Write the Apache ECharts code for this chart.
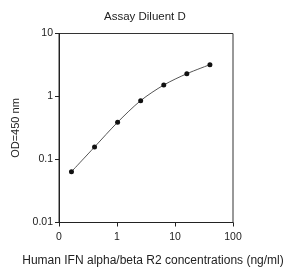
<!DOCTYPE html>
<html>
<head>
<meta charset="utf-8">
<script src="https://cdn.jsdelivr.net/npm/echarts@6/dist/echarts.min.js"></script>
<style>
  html, body { margin: 0; padding: 0; background: #fff; }
  #chart { width: 289px; height: 272px; }
</style>
</head>
<body>
<div id="chart"></div>
<script>
const concentrations = [0.164, 0.41, 1.024, 2.56, 6.4, 16, 40];
const odValues = [0.064, 0.158, 0.39, 0.86, 1.52, 2.3, 3.2];
const xTickLabels = { 0.1: '0', 1: '1', 10: '10', 100: '100' };

const chartArea = document.getElementById('chart');
const chart = echarts.init(chartArea);

const axis_text_style = {
  color: '#222',
  fontFamily: 'Liberation Sans',
  fontSize: 10.5
};

const points = concentrations.map((c, i) => [c, odValues[i]]);

const options = {
  animation: false,
  title: {
    text: 'Assay Diluent D',
    left: 99,
    top: 6,
    textStyle: { color: '#222', fontFamily: 'Liberation Sans', fontSize: 11.5, fontWeight: 'normal' }
  },
  grid: {
    left: 59, right: 56, top: 33.5, bottom: 49.5,
    show: true, borderColor: '#333', borderWidth: 1
  },
  xAxis: {
    type: 'log',
    logBase: 10,
    min: 0.1,
    max: 100,
    name: 'Human IFN alpha/beta R2 concentrations (ng/ml)',
    nameLocation: 'middle',
    nameGap: 32,
    nameTextStyle: { color: '#222', fontFamily: 'Liberation Sans', fontSize: 12, padding: [0, 0, 0, 14] },
    axisLine: { lineStyle: { color: '#222' } },
    axisTick: { length: 4, lineStyle: { color: '#222' } },
    minorTick: { show: false },
    splitLine: { show: false },
    axisLabel: Object.assign({
      margin: 9,
      formatter: function (v) {
        const key = Math.round(Math.log10(v));
        return xTickLabels[Math.pow(10, key)] ?? String(v);
      }
    }, axis_text_style)
  },
  yAxis: {
    type: 'log',
    logBase: 10,
    min: 0.01,
    max: 10,
    name: 'OD=450 nm',
    nameLocation: 'middle',
    nameGap: 38,
    nameTextStyle: { color: '#222', fontFamily: 'Liberation Sans', fontSize: 11 },
    axisLine: { lineStyle: { color: '#222' } },
    axisTick: { length: 4, lineStyle: { color: '#222' } },
    splitLine: { show: false },
    axisLabel: Object.assign({
      margin: 6,
      formatter: function (v) {
        return String(Number(v.toPrecision(1)));
      }
    }, axis_text_style)
  },
  series: [
    {
      type: 'line',
      data: points,
      smooth: 0.3,
      symbol: 'circle',
      symbolSize: 5,
      itemStyle: { color: '#111' },
      lineStyle: { color: '#555', width: 1 }
    }
  ]
};
chart.setOption(options);
</script>
</body>
</html>
